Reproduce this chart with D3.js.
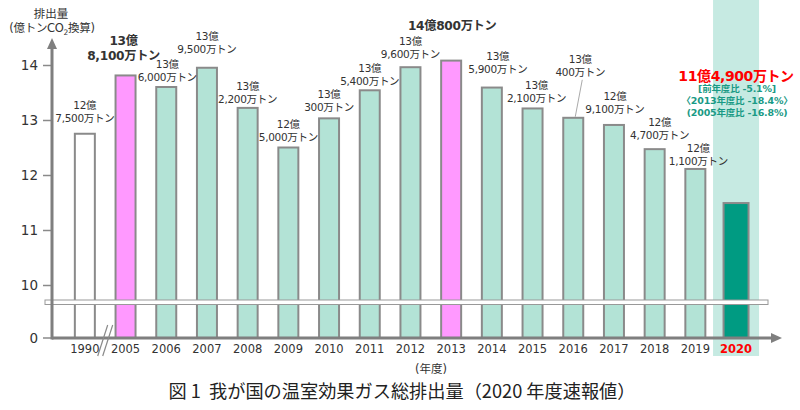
<!DOCTYPE html>
<html><head><meta charset="utf-8">
<script src="https://cdn.jsdelivr.net/npm/d3@7/dist/d3.min.js"></script>
<style>
html,body{margin:0;padding:0;background:#fff;}
svg{display:block;font-family:"Noto Sans CJK JP","Noto Sans",sans-serif;}
.vf{font-family:"DejaVu Sans","Noto Sans CJK JP",sans-serif;}
</style></head>
<body><svg id="chart" width="800" height="410"></svg>
<script>
// ---- data ----
const years = ["1990","2005","2006","2007","2008","2009","2010","2011","2012","2013","2014","2015","2016","2017","2018","2019","2020"];
const emissions = [12.75,13.81,13.60,13.95,13.22,12.50,13.03,13.54,13.96,14.08,13.59,13.21,13.04,12.91,12.47,12.11,11.49];
const barKind = ["base","peak","normal","normal","normal","normal","normal","normal","normal","peak","normal","normal","normal","normal","normal","normal","latest"];
const labelOku = ["12億","13億","13億","13億","13億","12億","13億","13億","13億","14億800万トン","13億","13億","13億","12億","12億","12億",""];
const labelMan = ["7,500万トン","8,100万トン","6,000万トン","9,500万トン","2,200万トン","5,000万トン","300万トン","5,400万トン","9,600万トン","","5,900万トン","2,100万トン","400万トン","9,100万トン","4,700万トン","1,100万トン",""];
const yTicks = [10,11,12,13,14];
const latestTitle = "11億4,900万トン";
const latestNotes = ["[前年度比 -5.1%]","〈2013年度比 -18.4%〉","(2005年度比 -16.8%)"];
const figTitle = "図 1\u00a0\u00a0我が国の温室効果ガス総排出量（2020 年度速報値）";

// ---- layout / style ----
const fills = {base:"#ffffff", peak:"#ff99ff", normal:"#b3e3d6", latest:"#009b82"};
const labelDx  = {"2005":-2,"2006":1,"2013":1,"2014":6,"2015":4,"2016":7,"2017":1,"2018":5,"2019":3};
const labelRise= {"1990":15,"2005":20,"2006":10,"2007":18,"2008":9,"2009":10,"2010":11,"2011":9,"2012":12.5,"2013":35,"2014":18,"2015":10,"2016":45,"2017":16,"2018":14,"2019":8};
const boldYears = ["2005","2013"];

const svg = d3.select("#chart");
const axisX = 52, baseY = 338;
const x = d3.scaleBand().domain(years).range([64.5, 64.5 + 17*40.7]).paddingInner(0.5).paddingOuter(0.25);
const y = d3.scaleLinear().domain([10,14]).range([285,65]);
const cx = d => x(d) + x.bandwidth()/2;

// highlight band for 2020
svg.append("rect").attr("x", cx("2020")-23).attr("y",0).attr("width",46).attr("height",356).attr("fill","#c6eae2");

// bars
const bw = 20;
svg.selectAll("rect.bar").data(years).join("rect").attr("class","bar")
  .attr("x", (d,i)=> cx(d) - (barKind[i]==="latest"?12.5:bw/2))
  .attr("width", (d,i)=> barKind[i]==="latest"?25:bw)
  .attr("y", (d,i)=> y(emissions[i]))
  .attr("height", (d,i)=> baseY - y(emissions[i]))
  .attr("fill", (d,i)=> fills[barKind[i]])
  .attr("stroke","#8a8a8a").attr("stroke-width",2);

// axis break band
svg.append("rect").attr("x",45).attr("y",300).attr("width",723).attr("height",4.5)
  .attr("fill","#fff").attr("stroke","#999").attr("stroke-width",1);

// y axis
const yAxisG = svg.append("g").attr("transform",`translate(${axisX},0)`)
  .call(d3.axisLeft(y).tickValues(yTicks).tickFormat(d3.format("d")).tickSize(9).tickPadding(5));
yAxisG.select(".domain").remove();
yAxisG.selectAll(".tick line").attr("stroke","#8a8a8a").attr("stroke-width",1.5);
yAxisG.selectAll(".tick text").attr("class","vf").attr("font-size",13.5).attr("fill","#333").attr("font-family",null);
// zero tick
svg.append("line").attr("x1",axisX-9).attr("x2",axisX).attr("y1",baseY).attr("y2",baseY).attr("stroke","#8a8a8a").attr("stroke-width",1.5);
svg.append("text").attr("class","vf").attr("x",axisX-14).attr("y",baseY).attr("dy","0.35em").attr("text-anchor","end")
  .attr("font-size",13.5).attr("fill","#333").text("0");

// axis lines with arrows
const axisColor = "#7f7f7f";
svg.append("line").attr("x1",axisX).attr("x2",axisX).attr("y1",baseY+1.5).attr("y2",48).attr("stroke",axisColor).attr("stroke-width",3);
svg.append("path").attr("d",`M${axisX-5},49 L${axisX},38 L${axisX+5},49 Z`).attr("fill",axisColor);
svg.append("line").attr("x1",axisX).attr("x2",772).attr("y1",baseY).attr("y2",baseY).attr("stroke",axisColor).attr("stroke-width",3);
svg.append("path").attr("d",`M771,${baseY-5} L782,${baseY} L771,${baseY+5} Z`).attr("fill",axisColor);

// axis break marks "//"
const bx = (cx("1990")+cx("2005"))/2;
[-2.5,2.5].forEach(o=>{
  svg.append("line").attr("x1",bx+o+5).attr("y1",325).attr("x2",bx+o-5).attr("y2",356)
    .attr("stroke","#8a8a8a").attr("stroke-width",1.2);
});

// x labels
svg.selectAll("text.xl").data(years).join("text").attr("class","xl vf")
  .attr("x", d=>cx(d)).attr("y",349).attr("dy","0.35em").attr("text-anchor","middle")
  .attr("font-size",11.5)
  .attr("font-weight", d=> d==="2020"?"bold":"normal")
  .attr("fill", d=> d==="2020"?"#ff0000":"#333")
  .text(d=>d);
svg.append("text").attr("class","vf").attr("x",431).attr("y",369).attr("dy","0.35em").attr("text-anchor","middle")
  .attr("font-size",11.5).attr("fill","#333").text("(年度)");

// axis title (two lines in one text element)
const t1 = svg.append("text").attr("class","vf").attr("text-anchor","middle").attr("font-size",11.5).attr("fill","#333");
t1.append("tspan").attr("x",51).attr("y",18).text("排出量");
const tl2 = t1.append("tspan").attr("x",52).attr("y",32).attr("letter-spacing","-0.3");
tl2.append("tspan").text("(億トンCO");
tl2.append("tspan").attr("font-size",7.5).attr("dy","3").text("2");
tl2.append("tspan").attr("dy","-3").text("換算)");

// value labels (one text element per label)
years.forEach((yr,i)=>{
  if (barKind[i]==="latest") return;
  const bold = boldYears.includes(yr);
  const lx = cx(yr) + (labelDx[yr]||0);
  const l2y = y(emissions[i]) - labelRise[yr];
  const fs = bold ? 12.2 : 10.5;
  const t = svg.append("text").attr("class","vf").attr("font-size",fs).attr("font-weight",bold?"bold":"normal")
    .attr("fill","#333").attr("text-anchor","middle").attr("letter-spacing","-0.3");
  if (labelMan[i]) {
    t.append("tspan").attr("x",lx).attr("y",l2y-(bold?15:13)).attr("dy","0.35em").text(labelOku[i]);
    t.append("tspan").attr("x",lx).attr("y",l2y).attr("dy","0.35em").text(labelMan[i]);
  } else {
    t.append("tspan").attr("x",lx).attr("y",l2y).attr("dy","0.35em").text(labelOku[i]);
  }
  if (yr==="2016") {
    svg.append("line").attr("x1",lx+2).attr("y1",l2y+7).attr("x2",cx(yr)+2).attr("y2",y(emissions[i])-1)
      .attr("stroke","#aaa").attr("stroke-width",1);
  }
});

// latest annotation (one text element)
const lc = cx("2020");
const la = svg.append("text").attr("class","vf").attr("text-anchor","middle").attr("font-weight","bold");
la.append("tspan").attr("x",lc).attr("y",76).attr("dy","0.35em").attr("letter-spacing","-0.4")
  .attr("font-size",14).attr("fill","#ff0000").text(latestTitle);
latestNotes.forEach((s,k)=>{
  la.append("tspan").attr("x",lc+1).attr("y",89+k*12).attr("dy","0.35em").attr("letter-spacing","-0.2")
    .attr("font-size",9.5).attr("fill","#1a9a85").text(s);
});

// figure title
svg.append("text").attr("x",402).attr("y",392).attr("dy","0.35em").attr("text-anchor","middle")
  .attr("font-size",18.2).attr("fill","#222")
  .text(figTitle);
</script></body></html>
